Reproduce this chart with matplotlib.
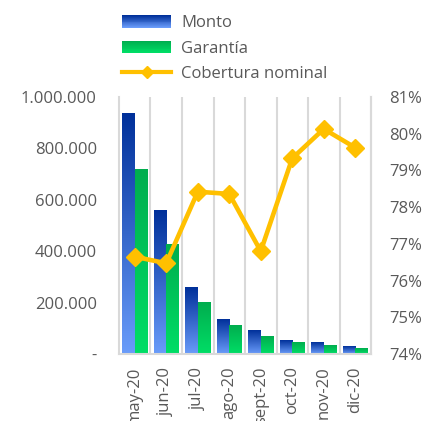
import matplotlib
matplotlib.use("Agg")
import matplotlib.pyplot as plt
import numpy as np
from matplotlib.colors import LinearSegmentedColormap
from matplotlib.patches import Rectangle, Patch
from matplotlib.lines import Line2D
from matplotlib.ticker import FuncFormatter

# datos
meses = ["may-20", "jun-20", "jul-20", "ago-20", "sept-20", "oct-20", "nov-20", "dic-20"]
monto = [934000, 560000, 257000, 136000, 93000, 52000, 43000, 31000]
garantia = [716000, 428000, 202000, 109000, 67000, 43000, 35000, 23000]
cobertura = [76.65, 76.47, 78.42, 78.36, 76.80, 79.33, 80.13, 79.62]

GRIS = "#595959"
GRID = "#D9D9D9"
FS = 12
cmap_monto = LinearSegmentedColormap.from_list("monto", ["#6A9CFA", "#00309A"])
cmap_gar = LinearSegmentedColormap.from_list("gar", ["#00DE66", "#00AD4E"])

plt.rcParams["font.family"] = ["Open Sans", "DejaVu Sans"]
plt.rcParams["font.size"] = FS


class GradHandler:
    """legend handle drawn as horizontal stripes of a colormap"""
    def __init__(self, cmap):
        self.cmap = cmap

    def legend_artist(self, legend, orig_handle, fontsize, handlebox):
        x0, y0 = -handlebox.xdescent, -handlebox.ydescent
        w, h = handlebox.width, handlebox.height
        n = 14
        last = None
        for i in range(n):
            last = Rectangle((x0, y0 + i * h / n), w, h / n * 1.05,
                             facecolor=self.cmap(i / (n - 1)), edgecolor="none",
                             transform=handlebox.get_transform())
            handlebox.add_artist(last)
        return last


fig = plt.figure(figsize=(4.31, 4.21), dpi=100)
ax = fig.add_axes([119 / 431, 1 - 354 / 421, (371 - 119) / 431, (354 - 97) / 421])

x = np.arange(len(meses))
w = 0.4
bars_m = ax.bar(x - w / 2, monto, w, color="none")
bars_g = ax.bar(x + w / 2, garantia, w, color="none")

# relleno degradado por barra
grad = np.linspace(0, 1, 256).reshape(-1, 1)
for bars, cm in [(bars_m, cmap_monto), (bars_g, cmap_gar)]:
    for b in bars:
        x0 = b.get_x()
        ax.imshow(grad, extent=(x0, x0 + b.get_width(), 0, b.get_height()),
                  origin="lower", cmap=cm, aspect="auto", zorder=2)

ax.set_xlim(-0.5, len(meses) - 0.5)
ax.set_ylim(0, 1000000)
ax.set_yticks(np.arange(0, 1000001, 200000))
ax.yaxis.set_major_formatter(FuncFormatter(
    lambda v, p: "-" if v == 0 else f"{int(v):,}".replace(",", ".")))
ax.set_xticks(x)
ax.set_xticklabels(meses, rotation=90)
for xb in np.arange(0.5, len(meses) - 0.5, 1):
    ax.axvline(xb, color=GRID, lw=1.5, zorder=1)

ax.spines["top"].set_visible(False)
for s in ["left", "bottom", "right"]:
    ax.spines[s].set_color(GRID)
    ax.spines[s].set_linewidth(1.5)
ax.tick_params(length=0, colors=GRIS, labelsize=FS)
ax.tick_params(axis="y", pad=16)
ax.tick_params(axis="x", pad=9)

ax2 = ax.twinx()
ax2.plot(x, cobertura, color="#FFC000", lw=3.3, marker="D", markersize=9, zorder=3)
ax2.set_ylim(74, 81)
ax2.set_yticks(range(74, 82))
ax2.yaxis.set_major_formatter(FuncFormatter(lambda v, p: f"{v:.0f}%"))
ax2.tick_params(length=0, colors=GRIS, labelsize=FS, pad=13)
for s in ["top", "left", "bottom"]:
    ax2.spines[s].set_visible(False)
ax2.spines["right"].set_color(GRID)
ax2.spines["right"].set_linewidth(1.5)

h_m = Patch(label="Monto")
h_g = Patch(label="Garantía")
h_c = Line2D([], [], color="#FFC000", lw=3, marker="D", markersize=6, label="Cobertura nominal")
leg = fig.legend(handles=[h_m, h_g, h_c], loc="upper left",
                 bbox_to_anchor=(114 / 431, 1 - 7 / 421), frameon=False,
                 borderpad=0, handlelength=2.93, handleheight=0.75,
                 labelspacing=0.56, handletextpad=0.6, fontsize=FS,
                 handler_map={h_m: GradHandler(cmap_monto), h_g: GradHandler(cmap_gar)})
for t in leg.get_texts():
    t.set_color(GRIS)

fig.savefig("out.png", dpi=100)
